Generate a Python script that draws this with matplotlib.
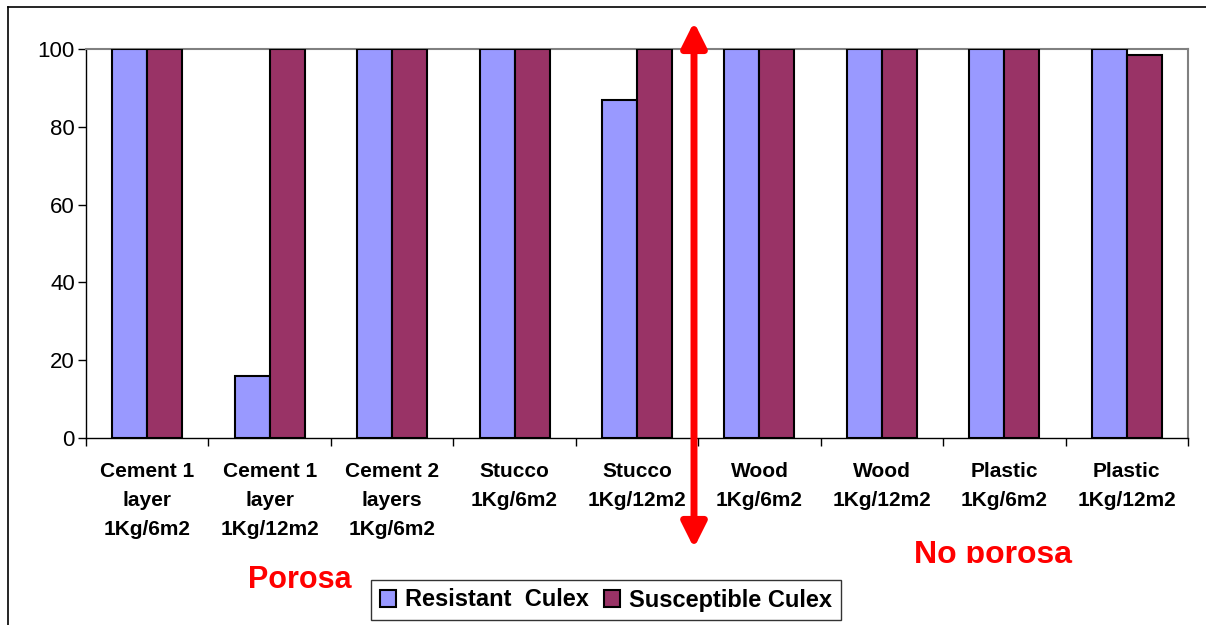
import numpy as np
import matplotlib.pyplot as plt
from matplotlib.patches import Rectangle, FancyArrowPatch

plt.rcParams['font.family'] = ['Liberation Sans', 'DejaVu Sans']

categories = ['Cement 1\nlayer\n1Kg/6m2', 'Cement 1\nlayer\n1Kg/12m2', 'Cement 2\nlayers\n1Kg/6m2',
              'Stucco\n1Kg/6m2', 'Stucco\n1Kg/12m2', 'Wood\n1Kg/6m2', 'Wood\n1Kg/12m2',
              'Plastic\n1Kg/6m2', 'Plastic\n1Kg/12m2']
resistant = [100, 16, 100, 100, 87, 100, 100, 100, 100]
susceptible = [100, 100, 100, 100, 100, 100, 100, 100, 98.5]

fig = plt.figure(figsize=(12.06, 6.25), dpi=100)
W, H = 1206, 625
ax = fig.add_axes([86/W, 1-438/H, (1188-86)/W, (438-49)/H])

x = np.arange(len(categories))
bw = 0.286
ax.bar(x - bw/2, resistant, bw, color='#9999FF', edgecolor='black', linewidth=1.5,
       label='Resistant  Culex', zorder=3)
ax.bar(x + bw/2, susceptible, bw, color='#993366', edgecolor='black', linewidth=1.5,
       label='Susceptible Culex', zorder=3)

ax.set_xlim(-0.5, len(categories) - 0.5)
ax.set_ylim(0, 100)
ax.set_yticks(range(0, 101, 20))
ax.tick_params(axis='y', labelsize=16, length=6, width=1, direction='out', pad=2)
ax.set_xticks(x)
ax.set_xticklabels(categories, fontsize=15, fontweight='bold', linespacing=1.68)
ax.tick_params(axis='x', length=0, pad=17)
ax.set_xticks(np.arange(-0.5, len(categories)), minor=True)
ax.tick_params(axis='x', which='minor', length=6, width=1, direction='out')
for s in ['top', 'right']:
    ax.spines[s].set_color('#808080')
    ax.spines[s].set_linewidth(1.5)
for s in ['left', 'bottom']:
    ax.spines[s].set_color('black')
    ax.spines[s].set_linewidth(1)

# outer chart frame
fig.add_artist(plt.Line2D([8/W, 8/W], [0, 1-7/H], color='black', lw=1.2))
fig.add_artist(plt.Line2D([8/W, 1], [1-7/H, 1-7/H], color='black', lw=1.2))

# red divider arrow
arr = FancyArrowPatch((694/W, 1-548/H), (694/W, 1-22/H), transform=fig.transFigure,
                      arrowstyle='<|-|>,head_length=1.5,head_width=0.75', color='#FF0000',
                      lw=5, mutation_scale=10, shrinkA=0, shrinkB=0, zorder=5)
fig.add_artist(arr)

t1 = fig.text(300/W, 1-580/H, 'Porosa', color='#FF0000', fontsize=22, fontweight='bold',
              ha='center', va='center')
t1.set_clip_path(Rectangle((0, 1-588/H), 1, 588/H, transform=fig.transFigure))
t2 = fig.text(993/W, 1-555/H, 'No porosa', color='#FF0000', fontsize=23, fontweight='bold',
              ha='center', va='center')
t2.set_clip_path(Rectangle((0, 1-563/H), 1, 563/H, transform=fig.transFigure))

leg = fig.legend(loc='center', bbox_to_anchor=(606/W, 1-600/H), ncol=2, frameon=True,
                 fancybox=False, edgecolor='black', prop={'size': 17, 'weight': 'bold'},
                 handlelength=0.7, handleheight=0.7, handletextpad=0.4, columnspacing=0.6,
                 borderpad=0.35, borderaxespad=0)
leg.get_frame().set_linewidth(1)

fig.savefig('out.png', dpi=100)
